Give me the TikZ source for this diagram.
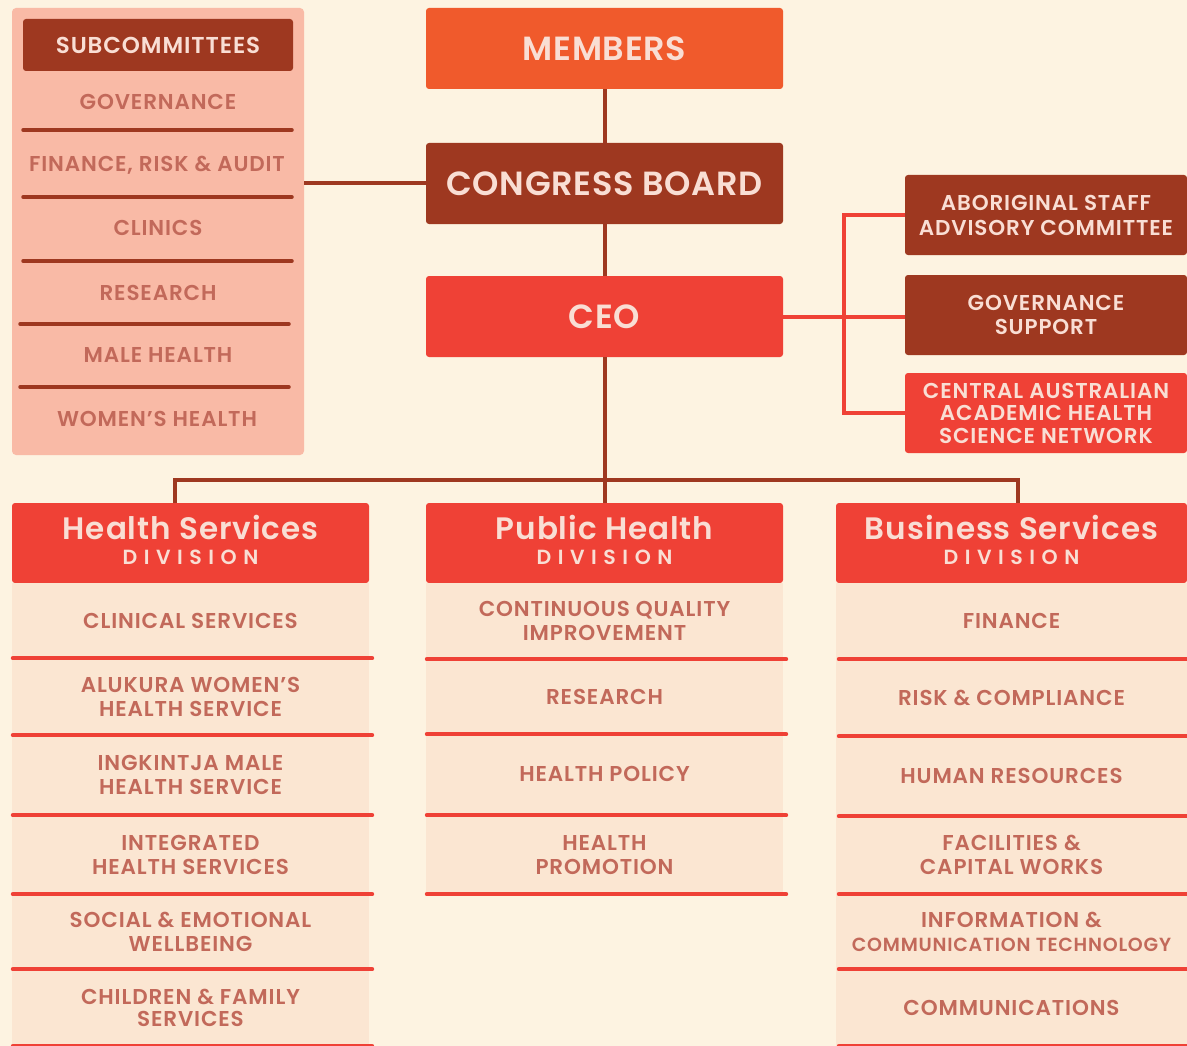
\documentclass[tikz,border=0pt]{standalone}
\usepackage{fontspec}
\setmainfont{Poppins}
\IfFontExistsTF{Poppins SemiBold}{%
  \newfontfamily\popA[LetterSpace=4]{Poppins SemiBold}
  \newfontfamily\popB[LetterSpace=2]{Poppins SemiBold}
  \newfontfamily\popD[LetterSpace=32]{Poppins SemiBold}
  \newfontfamily\popH[LetterSpace=3]{Poppins SemiBold}
  \let\wt\relax
}{%
  \newfontfamily\popA[LetterSpace=4]{Poppins}
  \newfontfamily\popB[LetterSpace=2]{Poppins}
  \newfontfamily\popD[LetterSpace=32]{Poppins}
  \newfontfamily\popH[LetterSpace=3]{Poppins}
  \let\wt\bfseries
}
\definecolor{bgc}{HTML}{FDF3E1}
\definecolor{salmon}{HTML}{F9BAA6}
\definecolor{darkred}{HTML}{9E3820}
\definecolor{orng}{HTML}{F05A2C}
\definecolor{redc}{HTML}{EF4136}
\definecolor{itembg}{HTML}{FBE6D2}
\definecolor{itemtxt}{HTML}{C2695A}
\definecolor{lighttxt}{HTML}{F9DED4}
\newcommand{\bigfont}{\popB\wt\fontsize{33.5}{38}\selectfont}
\newcommand{\itfont}{\popA\wt\fontsize{21.5}{24}\selectfont}
\newcommand{\rtfont}{\popA\wt\fontsize{21.5}{24}\selectfont}
\newcommand{\shfont}{\popA\wt\fontsize{23}{24}\selectfont}
\newcommand{\hdfont}{\popH\wt\fontsize{31}{31}\selectfont}
\newcommand{\dvfont}{\popD\wt\fontsize{20.5}{22}\selectfont}
\tikzset{
  topbox/.style={rectangle, rounded corners=3pt, inner sep=0pt, align=center,
    minimum width=357, minimum height=81, text=lighttxt, font=\bigfont},
  rbox/.style={rectangle, rounded corners=3pt, inner sep=0pt, align=center,
    minimum width=282, minimum height=80, text=lighttxt, font=\rtfont},
  divbox/.style={rectangle, rounded corners=3pt, inner sep=0pt,
    minimum height=80, fill=redc},
  divtxt/.style={inner sep=0pt, align=center, text=lighttxt, font=\hdfont},
  item/.style={rectangle, inner sep=0pt, align=center, fill=itembg,
    text=itemtxt, font=\itfont},
  subitem/.style={inner sep=0pt, align=center, text=itemtxt, font=\itfont},
  sepline/.style={line width=4pt, line cap=round, redc},
  subsep/.style={line width=3.5pt, line cap=round, darkred},
  darkline/.style={line width=4pt, darkred},
  redline/.style={line width=4pt, redc},
}
\begin{document}
\begin{tikzpicture}[x=1pt,y=-1pt]
\useasboundingbox (0,0) rectangle (1187,1046);
\fill[bgc] (0,0) rectangle (1187,1046);

\coordinate (bar) at (604,480);
\coordinate (hdrop) at (175,503);
\coordinate (bdrop) at (1018,503);

% subcommittee panel
\node[rectangle, rounded corners=4pt, fill=salmon, minimum width=292, minimum height=447, inner sep=0pt] (sub) at (158,231.5) {};
\node[rectangle, rounded corners=3pt, fill=darkred, minimum width=270, minimum height=52, inner sep=0pt, text=lighttxt, font=\shfont] (subh) at (158,45) {SUBCOMMITTEES};
\node[subitem] (s1) at (158,102) {GOVERNANCE};
\node[subitem] (s2) at (157,165) {FINANCE, RISK \& AUDIT};
\node[subitem] (s3) at (158,228) {CLINICS};
\node[subitem] (s4) at (158,293) {RESEARCH};
\node[subitem] (s5) at (158,355) {MALE HEALTH};
\node[subitem] (s6) at (157,419) {WOMEN’S HEALTH};
\draw[subsep] (23,130) -- (292,130);
\draw[subsep] (23,197) -- (292,197);
\draw[subsep] (23,261) -- (292,261);
\draw[subsep] (20,324) -- (289,324);
\draw[subsep] (20,387) -- (289,387);

% top boxes
\node[topbox, fill=orng] (members) at (604.5,48.5) {MEMBERS};
\node[topbox, fill=darkred] (board) at (604.5,183.5) {CONGRESS BOARD};
\node[topbox, fill=redc] (ceo) at (604.5,316.5) {CEO};

% right boxes
\node[rbox, fill=darkred] (asac) at (1046,215) {ABORIGINAL STAFF\\[1pt]ADVISORY COMMITTEE};
\node[rbox, fill=darkred] (gs) at (1046,315) {GOVERNANCE\\SUPPORT};
\node[rbox, fill=redc] (caa) at (1046,413) {CENTRAL AUSTRALIAN\\[-1.5pt]ACADEMIC HEALTH\\[-1.5pt]SCIENCE NETWORK};

% division headers
\node[divbox, minimum width=357] (hdiv) at (190.5,543) {};
\node[divbox, minimum width=357] (pdiv) at (604.5,543) {};
\node[divbox, minimum width=351] (bdiv) at (1011.5,543) {};
\node[divtxt] (hdivt) at ([yshift=3pt]hdiv.center) {Health Services\\[-6pt]{\dvfont DIVISION}};
\node[divtxt] (pdivt) at ([yshift=3pt]pdiv.center) {Public Health\\[-6pt]{\dvfont DIVISION}};
\node[divtxt] (bdivt) at ([yshift=3pt]bdiv.center) {Business Services\\[-6pt]{\dvfont DIVISION}};

% health items
\node[item, minimum width=357, minimum height=75] (hs1) at (190.5,620.5) {CLINICAL SERVICES};
\node[item, minimum width=357, minimum height=77] (hs2) at (190.5,696.5) {ALUKURA WOMEN’S\\HEALTH SERVICE};
\node[item, minimum width=357, minimum height=80] (hs3) at (190.5,775) {INGKINTJA MALE\\HEALTH SERVICE};
\node[item, minimum width=357, minimum height=79] (hs4) at (190.5,854.5) {INTEGRATED\\HEALTH SERVICES};
\node[item, minimum width=357, minimum height=75] (hs5) at (190.5,931.5) {SOCIAL \& EMOTIONAL\\WELLBEING};
\node[item, minimum width=357, minimum height=77] (hs6) at (190.5,1007.5) {CHILDREN \& FAMILY\\[-2pt]SERVICES};
\foreach \n in {hs1,hs2,hs3,hs4,hs5,hs6}
  \draw[sepline] ([xshift=1pt]\n.south west) -- ([xshift=3pt]\n.south east);

% public items
\node[item, minimum width=357, minimum height=76] (pb1) at (604.5,621) {CONTINUOUS QUALITY\\IMPROVEMENT};
\node[item, minimum width=357, minimum height=75] (pb2) at (604.5,696.5) {RESEARCH};
\node[item, minimum width=357, minimum height=82] (pb3) at (604.5,774) {HEALTH POLICY};
\node[item, minimum width=357, minimum height=78] (pb4) at (604.5,855) {HEALTH\\PROMOTION};
\foreach \n in {pb1,pb2,pb3,pb4}
  \draw[sepline] ([xshift=1pt]\n.south west) -- ([xshift=3pt]\n.south east);

% business items
\node[item, minimum width=351, minimum height=76] (bs1) at (1011.5,621) {FINANCE};
\node[item, minimum width=351, minimum height=77] (bs2) at (1011.5,697.5) {RISK \& COMPLIANCE};
\node[item, minimum width=351, minimum height=80] (bs3) at (1011.5,776) {HUMAN RESOURCES};
\node[item, minimum width=351, minimum height=78] (bs4) at (1011.5,855) {FACILITIES \&\\CAPITAL WORKS};
\node[item, minimum width=351, minimum height=75] (bs5) at (1011.5,931.5) {INFORMATION \&\\{\fontsize{19}{20}\selectfont COMMUNICATION TECHNOLOGY}};
\node[item, minimum width=351, minimum height=77] (bs6) at (1011.5,1007.5) {COMMUNICATIONS};
\foreach \n in {bs1,bs2,bs3,bs4,bs5,bs6}
  \draw[sepline] ([xshift=3pt]\n.south west) -- ([xshift=3pt]\n.south east);

% connectors
\draw[darkline] (members.south) -- (board.north);
\draw[darkline] (board.south) -- (ceo.north);
\draw[darkline] (ceo.south) -- (pdiv.north);
\draw[darkline] (hdrop) |- (bar) -| (bdrop);
\draw[darkline] (sub.east |- board.west) -- (board.west);
\draw[redline] (ceo.east) -- (ceo.east -| gs.west);
\draw[redline] (asac.west) -- ++(-61,0) |- (caa.west);
\end{tikzpicture}
\end{document}
